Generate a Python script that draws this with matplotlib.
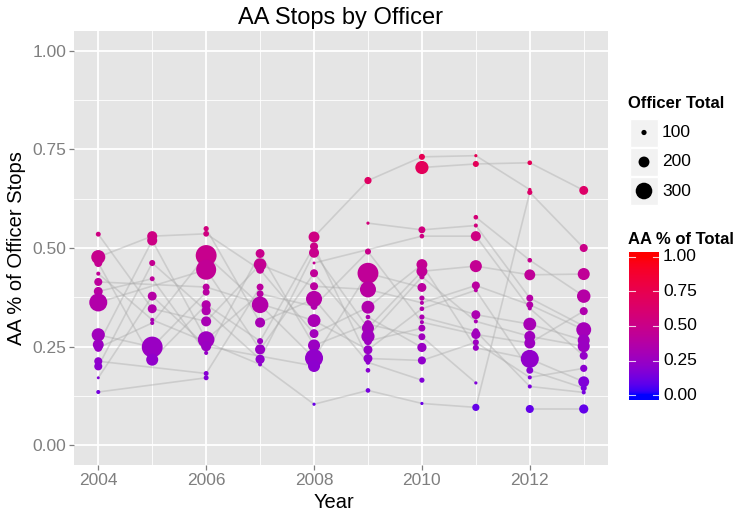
import numpy as np
import pandas as pd
import matplotlib
matplotlib.use("Agg")
import matplotlib.pyplot as plt
from matplotlib.colors import ListedColormap
from matplotlib.patches import Rectangle

plt.rcParams['font.family'] = ['Liberation Sans', 'DejaVu Sans']

# officer id, AA share of stops, officer total stops -- one set per year
off_2004 = [1, 2, 3, 4, 5, 6, 7, 8, 9, 10, 11, 12, 13, 14]
pct_2004 = [0.535, 0.477, 0.462, 0.435, 0.414, 0.390, 0.362, 0.280, 0.255, 0.247, 0.213, 0.200, 0.171, 0.135]
tot_2004 = [95, 255, 150, 80, 150, 165, 325, 240, 200, 150, 150, 150, 60, 80]

off_2005 = [2, 9, 12, 6, 13, 1, 4, 10, 8, 3]
pct_2005 = [0.530, 0.519, 0.462, 0.422, 0.378, 0.346, 0.318, 0.310, 0.249, 0.217]
tot_2005 = [185, 185, 115, 95, 165, 165, 80, 80, 375, 220]

off_2006 = [15, 2, 10, 7, 5, 8, 3, 12, 1, 9, 13, 6, 11, 14]
pct_2006 = [0.549, 0.536, 0.481, 0.445, 0.401, 0.388, 0.356, 0.341, 0.314, 0.268, 0.251, 0.234, 0.182, 0.171]
tot_2006 = [100, 110, 375, 360, 130, 130, 170, 170, 185, 300, 185, 80, 95, 95]

off_2007 = [6, 1, 2, 11, 9, 10, 15, 3, 7, 12, 4]
pct_2007 = [0.486, 0.458, 0.445, 0.401, 0.384, 0.356, 0.311, 0.264, 0.243, 0.218, 0.205]
tot_2007 = [165, 230, 150, 130, 130, 300, 185, 115, 185, 170, 80]

off_2008 = [17, 3, 12, 16, 7, 1, 15, 9, 5, 2, 6, 10, 13, 4]
pct_2008 = [0.528, 0.504, 0.488, 0.462, 0.436, 0.403, 0.371, 0.352, 0.316, 0.283, 0.253, 0.221, 0.201, 0.104]
tot_2008 = [200, 150, 185, 60, 150, 150, 290, 130, 235, 165, 220, 325, 220, 65]

off_2009 = [17, 18, 9, 10, 1, 2, 19, 6, 12, 7, 20, 5, 3, 15, 21, 4]
pct_2009 = [0.671, 0.563, 0.491, 0.436, 0.395, 0.350, 0.325, 0.307, 0.297, 0.276, 0.264, 0.242, 0.220, 0.210, 0.190, 0.139]
tot_2009 = [135, 65, 115, 375, 290, 235, 90, 150, 220, 240, 150, 165, 165, 90, 90, 90]

off_2010 = [17, 22, 18, 16, 2, 12, 7, 10, 24, 1, 5, 25, 9, 20, 6, 19, 3, 15, 4]
pct_2010 = [0.731, 0.704, 0.546, 0.530, 0.458, 0.441, 0.427, 0.400, 0.373, 0.361, 0.346, 0.325, 0.312, 0.297, 0.275, 0.248, 0.215, 0.165, 0.106]
tot_2010 = [115, 240, 130, 90, 200, 200, 100, 165, 100, 80, 90, 100, 80, 130, 130, 170, 150, 100, 65]

off_2011 = [17, 22, 26, 18, 16, 12, 1, 5, 24, 7, 25, 9, 3, 2, 6, 4]
pct_2011 = [0.734, 0.713, 0.578, 0.557, 0.530, 0.454, 0.405, 0.393, 0.331, 0.314, 0.289, 0.281, 0.261, 0.247, 0.158, 0.096]
tot_2011 = [65, 115, 90, 80, 185, 220, 150, 80, 165, 80, 115, 170, 115, 115, 65, 135]

off_2012 = [22, 17, 4, 26, 12, 18, 1, 16, 24, 7, 9, 2, 5, 3, 25, 29]
pct_2012 = [0.716, 0.648, 0.641, 0.469, 0.432, 0.373, 0.356, 0.347, 0.307, 0.276, 0.259, 0.219, 0.190, 0.172, 0.149, 0.092]
tot_2012 = [90, 70, 100, 90, 200, 130, 130, 80, 235, 200, 200, 325, 130, 80, 80, 150]

off_2013 = [22, 4, 12, 26, 9, 18, 1, 24, 7, 16, 3, 2, 5, 25, 29]
pct_2013 = [0.646, 0.500, 0.434, 0.378, 0.340, 0.302, 0.293, 0.266, 0.251, 0.227, 0.195, 0.161, 0.145, 0.134, 0.092]
tot_2013 = [165, 150, 220, 245, 150, 80, 270, 220, 220, 150, 135, 200, 115, 80, 170]

years = [2004, 2005, 2006, 2007, 2008, 2009, 2010, 2011, 2012, 2013]
size_breaks = [100, 200, 300]
color_breaks = [0.0, 0.25, 0.5, 0.75, 1.0]

g = globals()
frames = []
for yr in years:
    frames.append(pd.DataFrame({'officer': g['off_%d' % yr], 'year': yr,
                                'pct': g['pct_%d' % yr], 'total': g['tot_%d' % yr]}))
df = pd.concat(frames, ignore_index=True)


# blue -> red gradient interpolated in Lab space (like ggplot's scale_colour_gradient)
def srgb_to_lab(rgb):
    c = np.asarray(rgb, float)
    lin = np.where(c <= 0.04045, c / 12.92, ((c + 0.055) / 1.055) ** 2.4)
    M = np.array([[0.4124, 0.3576, 0.1805], [0.2126, 0.7152, 0.0722], [0.0193, 0.1192, 0.9505]])
    xyz = M @ lin / np.array([0.95047, 1.0, 1.08883])
    f = np.where(xyz > 0.008856, np.cbrt(xyz), 7.787 * xyz + 16 / 116)
    return np.array([116 * f[1] - 16, 500 * (f[0] - f[1]), 200 * (f[1] - f[2])])


def lab_to_srgb(lab):
    L, a, b = lab
    fy = (L + 16) / 116
    fx = fy + a / 500
    fz = fy - b / 200
    f = np.array([fx, fy, fz])
    xyz = np.where(f ** 3 > 0.008856, f ** 3, (f - 16 / 116) / 7.787) * np.array([0.95047, 1.0, 1.08883])
    Mi = np.array([[3.2406, -1.5372, -0.4986], [-0.9689, 1.8758, 0.0415], [0.0557, -0.2040, 1.0570]])
    lin = np.clip(Mi @ xyz, 0, 1)
    c = np.where(lin <= 0.0031308, 12.92 * lin, 1.055 * lin ** (1 / 2.4) - 0.055)
    return np.clip(c, 0, 1)


lab_lo = srgb_to_lab([0, 0, 1])
lab_hi = srgb_to_lab([1, 0, 0])
cmap = ListedColormap([lab_to_srgb(lab_lo + t * (lab_hi - lab_lo)) for t in np.linspace(0, 1, 256)])


def size_to_s(n):
    d_px = 0.057 * np.asarray(n, float) - 0.5
    d_px = np.maximum(d_px, 2.5)
    return (d_px * 0.72) ** 2


fig = plt.figure(figsize=(7.4, 5.13), dpi=100)
ax = fig.add_axes([74 / 740, 1 - 465 / 513, 534 / 740, 434 / 513])
ax.set_facecolor('#E5E5E5')

# officer trajectories
for off, grp in df.sort_values('year').groupby('officer'):
    ax.plot(grp['year'], grp['pct'], color='#a8a8a8', alpha=0.4, lw=1.2, zorder=2,
            solid_capstyle='butt')

ax.scatter(df['year'], df['pct'], s=size_to_s(df['total']), c=df['pct'], cmap=cmap,
           vmin=0, vmax=1, linewidths=0, zorder=3)

ax.set_xlim(2003.55, 2013.45)
ax.set_ylim(-0.05, 1.05)
ax.set_xticks([2004, 2006, 2008, 2010, 2012])
ax.set_xticks([2005, 2007, 2009, 2011, 2013], minor=True)
ax.set_yticks(color_breaks)
ax.set_yticks([0.125, 0.375, 0.625, 0.875], minor=True)
ax.set_yticklabels(['0.00', '0.25', '0.50', '0.75', '1.00'])
ax.grid(which='major', color='white', lw=1.3, zorder=0)
ax.grid(which='minor', color='white', lw=0.6, zorder=0)
ax.set_axisbelow(True)
for sp in ax.spines.values():
    sp.set_visible(False)
ax.tick_params(which='major', length=3.5, width=0.9, color='#7F7F7F', labelcolor='#7F7F7F',
               labelsize=12.5, pad=2)
ax.tick_params(which='minor', length=0)

fig.text(340 / 740, 1 - 18 / 513, 'AA Stops by Officer', ha='center', va='center', fontsize=17)
fig.text(334 / 740, 1 - 503 / 513, 'Year', ha='center', va='center', fontsize=14.5)
fig.text(17 / 740, 1 - 248 / 513, 'AA % of Officer Stops', ha='center', va='center',
         rotation=90, fontsize=14.5)

# legends, laid out in pixel coordinates
lg = fig.add_axes([0, 0, 1, 1], zorder=5)
lg.set_xlim(0, 740)
lg.set_ylim(513, 0)
lg.axis('off')
lg.text(628, 103, 'Officer Total', ha='left', va='center', fontsize=12, fontweight='bold')
key_y = [132.5, 162, 191]
for yc, br in zip(key_y, size_breaks):
    lg.add_patch(Rectangle((630, yc - 14), 27.5, 28, facecolor='#F2F2F2', edgecolor='white', lw=1))
    lg.text(662, yc, str(br), ha='left', va='center', fontsize=12.5)
lg.scatter([644] * 3, key_y, s=size_to_s(size_breaks), color='black', linewidths=0)
lg.text(628, 239, 'AA % of Total', ha='left', va='center', fontsize=12, fontweight='bold')

cax = fig.add_axes([629 / 740, 1 - 400 / 513, 30 / 740, 148.3 / 513])
lo, hi = -0.036, 1.038
grad = np.linspace(lo, hi, 300).reshape(-1, 1)
cax.imshow(grad, cmap=cmap, vmin=0, vmax=1, aspect='auto', origin='lower', extent=[0, 1, lo, hi])
cax.set_xlim(0, 1)
cax.set_ylim(lo, hi)
cax.axis('off')
for v in color_breaks:
    cax.plot([0, 0.2], [v, v], color='white', lw=0.8, alpha=0.8)
    cax.plot([0.8, 1], [v, v], color='white', lw=0.8, alpha=0.8)
    cax.text(1.13, v, '%.2f' % v, transform=cax.get_yaxis_transform(), ha='left', va='center',
             fontsize=12.5)

fig.savefig('out.png', dpi=100)
